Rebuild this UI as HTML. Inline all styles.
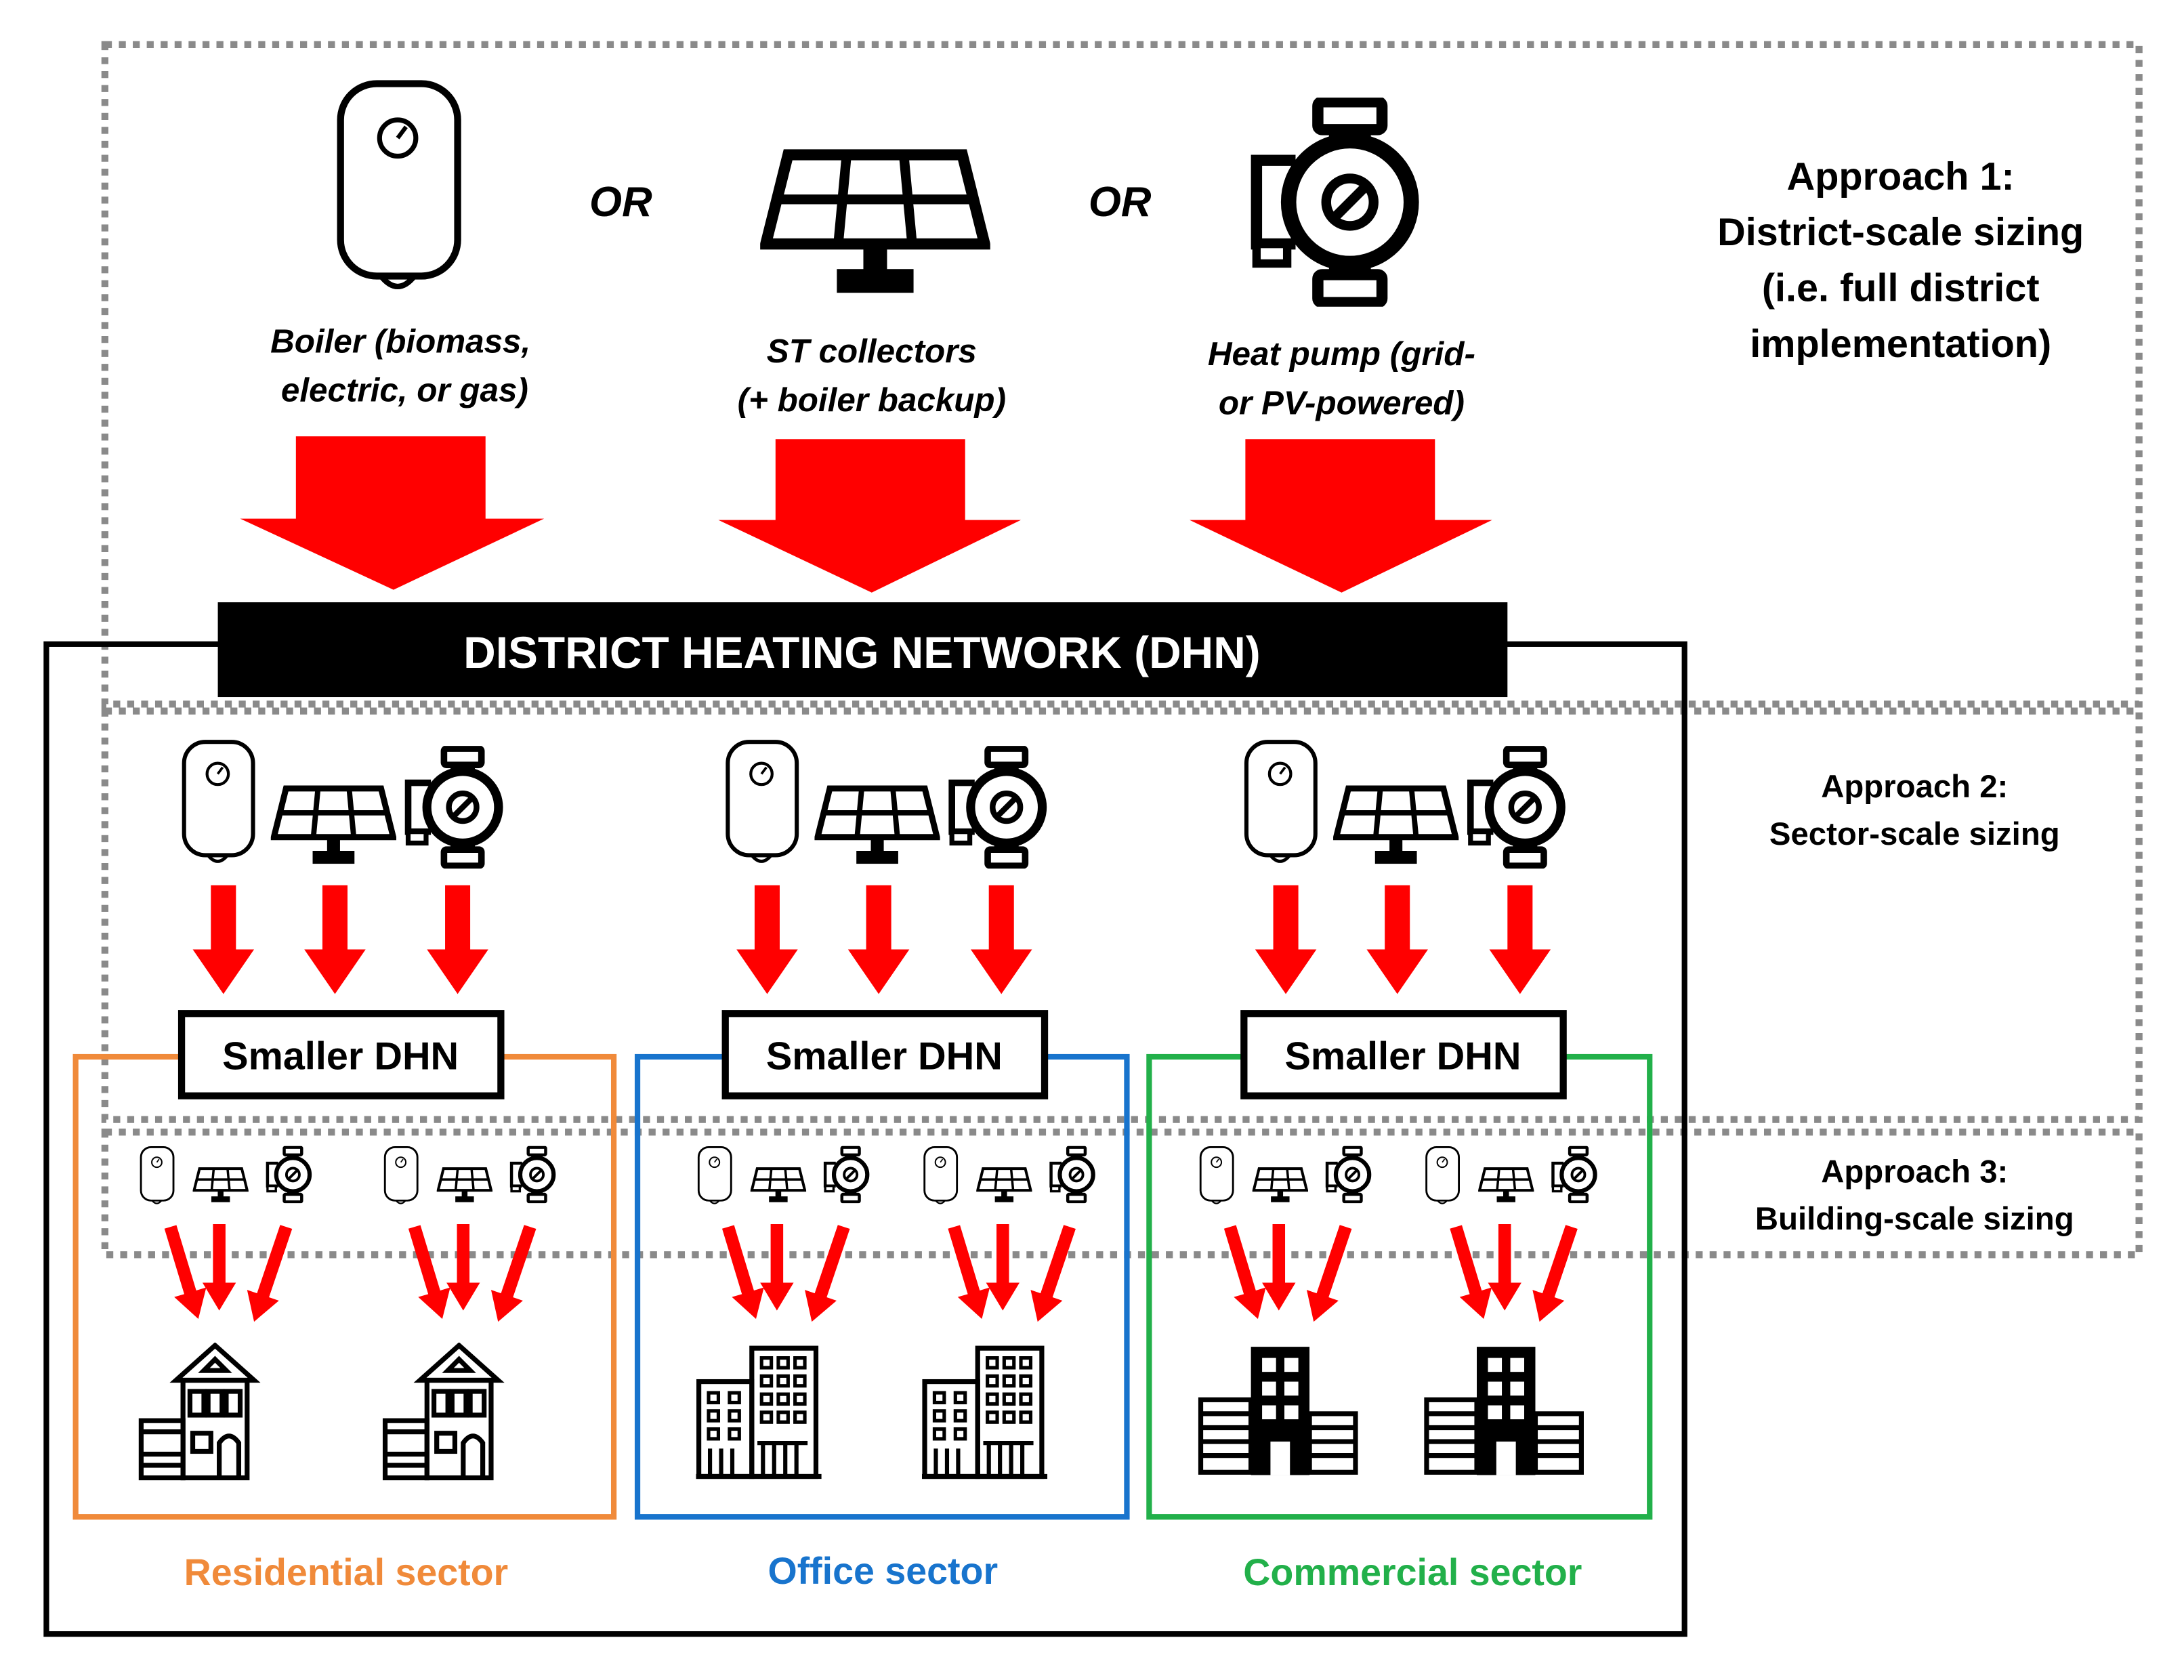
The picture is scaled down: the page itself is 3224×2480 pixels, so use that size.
<!DOCTYPE html>
<html><head><meta charset="utf-8"><style>
html,body{margin:0;padding:0;background:#fff}
svg{display:block}
text{font-family:"Liberation Sans",sans-serif;font-weight:bold}
</style></head><body>
<svg id="s" width="3224" height="2480" viewBox="0 0 1566 1205" xmlns="http://www.w3.org/2000/svg">
<defs>
<symbol id="boiler" viewBox="0 0 90 155">
<rect x="3" y="3" width="84" height="138" rx="26" fill="#fff" stroke="#000" stroke-width="5"/>
<circle cx="44" cy="42" r="13" fill="none" stroke="#000" stroke-width="3.5"/>
<line x1="44" y1="42" x2="50" y2="34" stroke="#000" stroke-width="3"/>
<path d="M32 141 Q44 156 56 141" fill="none" stroke="#000" stroke-width="4"/>
</symbol>
<symbol id="panel" viewBox="0 0 165 105">
<polygon points="20,4 145,4 161,68 4,68" fill="#fff" stroke="#000" stroke-width="8"/>
<line x1="12" y1="36" x2="153" y2="36" stroke="#000" stroke-width="7"/>
<line x1="62" y1="4" x2="56" y2="68" stroke="#000" stroke-width="7"/>
<line x1="103" y1="4" x2="109" y2="68" stroke="#000" stroke-width="7"/>
<rect x="74" y="68" width="17" height="22" fill="#000"/>
<rect x="55" y="86" width="55" height="17" fill="#000"/>
</symbol>
<symbol id="pump" viewBox="0 0 125 150">
<rect x="50" y="3" width="46" height="20" rx="3" fill="#fff" stroke="#000" stroke-width="8"/>
<rect x="58" y="23" width="30" height="12" fill="#000"/>
<rect x="50" y="127" width="46" height="20" rx="3" fill="#fff" stroke="#000" stroke-width="8"/>
<rect x="58" y="115" width="30" height="12" fill="#000"/>
<path d="M34 45 H6 V105 H34" fill="#fff" stroke="#000" stroke-width="8"/>
<rect x="6" y="105" width="22" height="14" fill="#fff" stroke="#000" stroke-width="6"/>
<circle cx="73" cy="75" r="44" fill="#fff" stroke="#000" stroke-width="11"/>
<circle cx="73" cy="75" r="17" fill="none" stroke="#000" stroke-width="7"/>
<line x1="63" y1="85" x2="83" y2="65" stroke="#000" stroke-width="7"/>
</symbol>
<symbol id="house" viewBox="0 0 100 100" preserveAspectRatio="none">
<g fill="none" stroke="#000" stroke-width="3.5">
<polygon points="55,2 83,27 27,27"/>
<polygon points="55,12 63,20 47,20"/>
<rect x="32" y="27" width="46" height="70"/>
<rect x="2" y="56" width="30" height="41"/>
<rect x="37" y="35" width="10" height="17"/><rect x="50" y="35" width="10" height="17"/><rect x="63" y="35" width="10" height="17"/>
<rect x="39" y="65" width="13" height="13"/>
<path d="M58 97 V72 Q65 62 72 72 V97"/>
<line x1="2" y1="64" x2="32" y2="64"/><line x1="2" y1="80" x2="32" y2="80"/><line x1="2" y1="88" x2="32" y2="88"/>
</g></symbol>
<symbol id="office" viewBox="0 0 90 100">
<g fill="none" stroke="#000" stroke-width="3.5">
<rect x="40" y="4" width="46" height="92"/>
<rect x="2" y="28" width="38" height="68"/>
<line x1="0" y1="96" x2="90" y2="96"/>
</g>
<g stroke="#000" stroke-width="3"><line x1="48" y1="72" x2="48" y2="96"/><line x1="56" y1="72" x2="56" y2="96"/><line x1="64" y1="72" x2="64" y2="96"/><line x1="72" y1="72" x2="72" y2="96"/><line x1="44" y1="72" x2="80" y2="72"/>
<line x1="10" y1="76" x2="10" y2="96"/><line x1="18" y1="76" x2="18" y2="96"/><line x1="26" y1="76" x2="26" y2="96"/></g>
<g fill="none" stroke="#000" stroke-width="2.5">
<rect x="47" y="11" width="7" height="7"/><rect x="59" y="11" width="7" height="7"/><rect x="71" y="11" width="7" height="7"/>
<rect x="47" y="24" width="7" height="7"/><rect x="59" y="24" width="7" height="7"/><rect x="71" y="24" width="7" height="7"/>
<rect x="47" y="37" width="7" height="7"/><rect x="59" y="37" width="7" height="7"/><rect x="71" y="37" width="7" height="7"/>
<rect x="47" y="50" width="7" height="7"/><rect x="59" y="50" width="7" height="7"/><rect x="71" y="50" width="7" height="7"/>
<rect x="9" y="36" width="7" height="7"/><rect x="24" y="36" width="7" height="7"/>
<rect x="9" y="49" width="7" height="7"/><rect x="24" y="49" width="7" height="7"/>
<rect x="9" y="62" width="7" height="7"/><rect x="24" y="62" width="7" height="7"/>
</g></symbol>
<symbol id="comm" viewBox="0 0 115 95">
<rect x="38" y="2" width="42" height="92" fill="#000"/>
<g fill="#fff"><rect x="46" y="10" width="10" height="10"/><rect x="62" y="10" width="10" height="10"/>
<rect x="46" y="27" width="10" height="10"/><rect x="62" y="27" width="10" height="10"/>
<rect x="46" y="44" width="10" height="10"/><rect x="62" y="44" width="10" height="10"/>
<rect x="52" y="70" width="14" height="24"/></g>
<g fill="none" stroke="#000" stroke-width="3.5"><rect x="2" y="40" width="36" height="52"/><rect x="80" y="50" width="33" height="42"/></g>
<g stroke="#000" stroke-width="3.5"><line x1="2" y1="50" x2="38" y2="50"/><line x1="2" y1="60" x2="38" y2="60"/><line x1="2" y1="70" x2="38" y2="70"/><line x1="2" y1="80" x2="38" y2="80"/>
<line x1="80" y1="60" x2="113" y2="60"/><line x1="80" y1="70" x2="113" y2="70"/><line x1="80" y1="80" x2="113" y2="80"/></g>
</symbol>
</defs>

<g fill="none" stroke="#8a8a8a" stroke-width="5" stroke-dasharray="5,5">
<rect x="75" y="32" width="1459" height="473"/>
<rect x="75" y="510" width="1459" height="293"/>
<rect x="75" y="812" width="1459" height="88"/>
</g>
<rect x="33" y="462" width="1175" height="710" fill="none" stroke="#000" stroke-width="4"/>

<rect x="54" y="758" width="386" height="330" fill="none" stroke="#F08A3A" stroke-width="4"/>
<rect x="457" y="758" width="351" height="330" fill="none" stroke="#1874CD" stroke-width="4"/>
<rect x="824" y="758" width="359" height="330" fill="none" stroke="#22B04A" stroke-width="4"/>

<use href="#boiler" x="241" y="57" width="90" height="155"/>
<use href="#panel" x="545" y="107" width="165" height="105"/>
<use href="#pump" x="895" y="70" width="125" height="150"/>
<text x="445" y="155" font-size="30" font-style="italic" text-anchor="middle">OR</text>
<text x="803" y="155" font-size="30" font-style="italic" text-anchor="middle">OR</text>
<g font-size="24" font-style="italic" text-anchor="middle">
<text x="287" y="253">Boiler (biomass,</text><text x="290" y="288">electric, or gas)</text>
<text x="625" y="260">ST collectors</text><text x="625" y="295">(+ boiler backup)</text>
<text x="962" y="262">Heat pump (grid-</text><text x="962" y="297">or PV-powered)</text>
</g>
<g font-size="28" text-anchor="middle">
<text x="1363" y="136">Approach 1:</text><text x="1363" y="176">District-scale sizing</text>
<text x="1363" y="216">(i.e. full district</text><text x="1363" y="256">implementation)</text>
</g>
<g font-size="23" text-anchor="middle">
<text x="1373" y="572">Approach 2:</text><text x="1373" y="606">Sector-scale sizing</text>
<text x="1373" y="848">Approach 3:</text><text x="1373" y="882">Building-scale sizing</text>
</g>

<g fill="#ff0000">
<polygon points="212,313 348,313 348,372 390,372 282,423 172,372 212,372"/>
<polygon points="556,315 692,315 692,373 732,373 625,425 515,373 556,373"/>
<polygon points="893,315 1029,315 1029,373 1070,373 962,425 853,373 893,373"/>
</g>

<rect x="156" y="432" width="925" height="68" fill="#000"/>
<text x="618" y="479" font-size="32" fill="#fff" text-anchor="middle">DISTRICT HEATING NETWORK (DHN)</text>

<g id="dyn"></g>

<g font-size="27" text-anchor="middle">
<text x="248" y="1137" fill="#F08A3A">Residential sector</text>
<text x="633" y="1136" fill="#1874CD">Office sector</text>
<text x="1013" y="1137" fill="#22B04A">Commercial sector</text>
</g>
</svg>
<script>
var g=document.getElementById("dyn"),h="";
function arrow(x1,y1,x2,y2,w,hw,hl){var dx=x2-x1,dy=y2-y1,L=Math.hypot(dx,dy),ux=dx/L,uy=dy/L,px=-uy,py=ux;
var bx=x2-ux*hl,by=y2-uy*hl;
var p=[[x1+px*w/2,y1+py*w/2],[bx+px*w/2,by+py*w/2],[bx+px*hw/2,by+py*hw/2],[x2,y2],[bx-px*hw/2,by-py*hw/2],[bx-px*w/2,by-py*w/2],[x1-px*w/2,y1-py*w/2]];
h+='<polygon fill="#ff0000" points="'+p.map(function(q){return q[0].toFixed(1)+","+q[1].toFixed(1)}).join(" ")+'"/>';}
[0,390,762].forEach(function(o){
h+='<use href="#boiler" x="'+(130+o)+'" y="530" width="53" height="92"/>';
h+='<use href="#panel" x="'+(194+o)+'" y="563" width="90" height="58"/>';
h+='<use href="#pump" x="'+(289+o)+'" y="535" width="73" height="88"/>';
[160,240,328].forEach(function(x){arrow(x+o,635,x+o,713,18,44,32);});
h+='<rect x="'+(130+o)+'" y="727" width="229" height="59" fill="#fff" stroke="#000" stroke-width="5"/>';
h+='<text x="'+(244+o)+'" y="767" font-size="28" text-anchor="middle">Smaller DHN</text>';
});
[100,275,500,662,860,1022].forEach(function(x,i){
h+='<use href="#boiler" x="'+x+'" y="822" width="25" height="43"/>';
h+='<use href="#panel" x="'+(x+38)+'" y="837" width="40" height="26"/>';
h+='<use href="#pump" x="'+(x+90)+'" y="822" width="34" height="41"/>';
arrow(x+22,880,x+42,946,9,24,20);
arrow(x+57,878,x+57,940,9,24,20);
arrow(x+105,880,x+82,948,9,24,20);
var t=i<2?"house":(i<4?"office":"comm");
var w=t=="house"?100:(t=="office"?90:115);
h+='<use href="#'+t+'" x="'+(x-1)+'" y="963" width="'+w+'" height="'+(t=="comm"?97:100)+'"/>';
});
g.innerHTML=h;
</script>
</body></html>
